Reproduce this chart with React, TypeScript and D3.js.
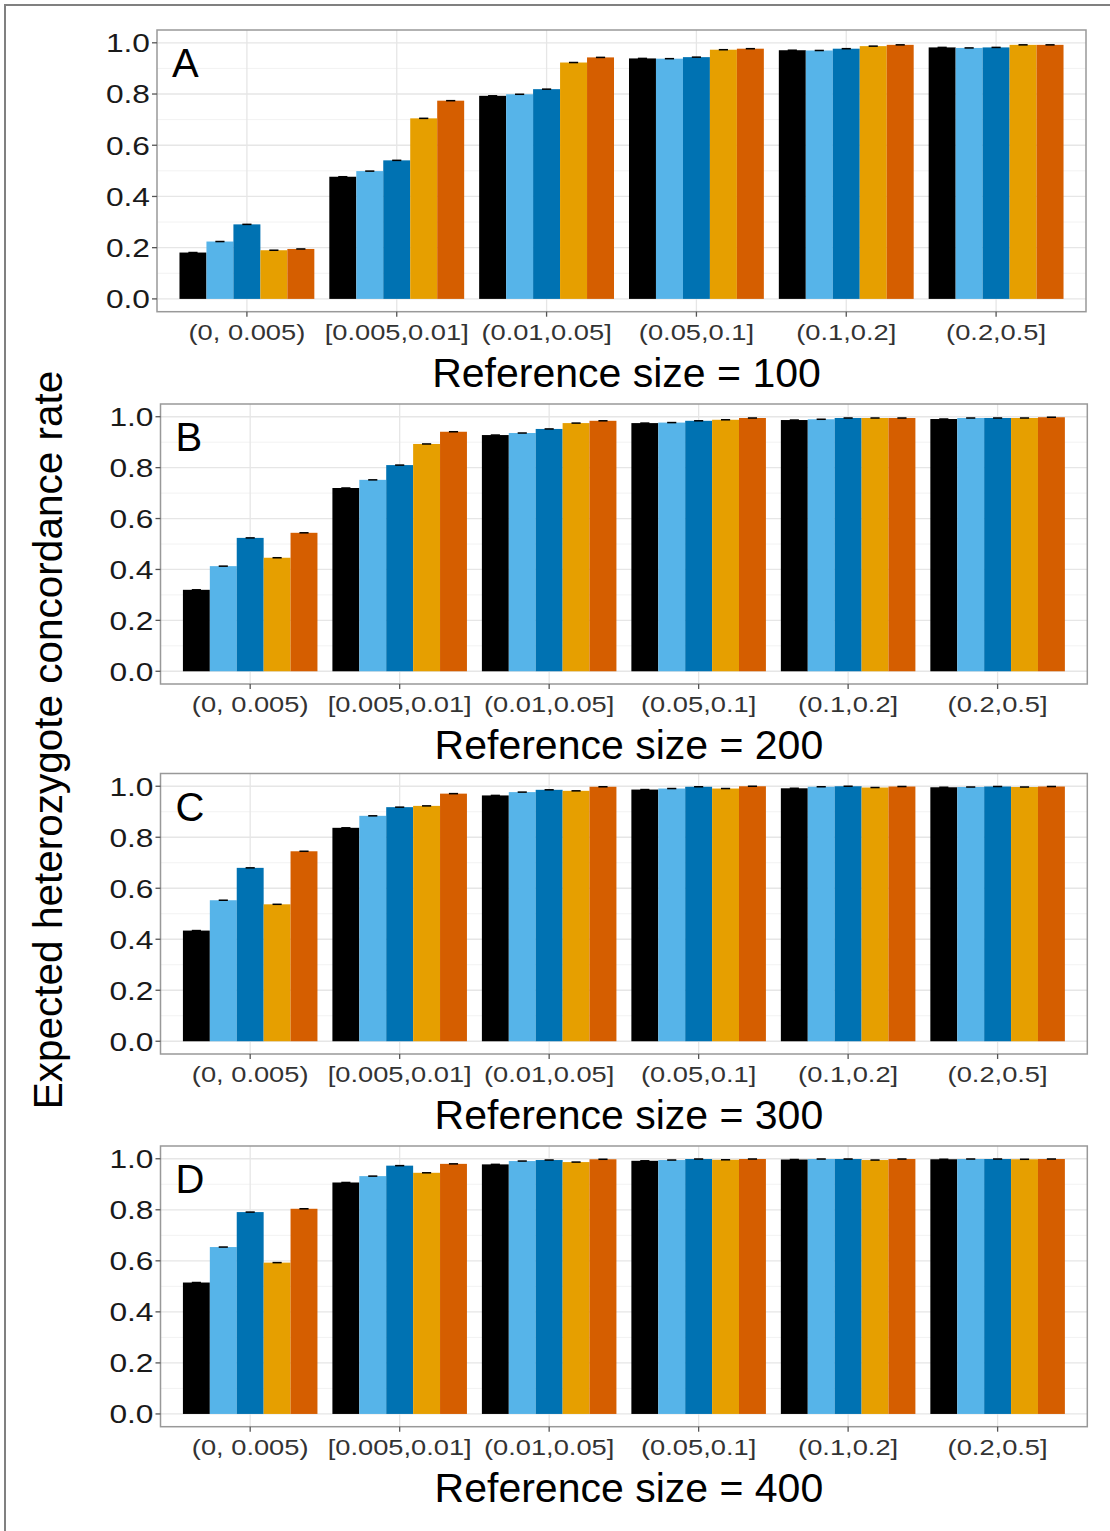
import React from "react";
import * as d3 from "d3";

const categories = ["(0, 0.005)", "[0.005,0.01]", "(0.01,0.05]", "(0.05,0.1]", "(0.1,0.2]", "(0.2,0.5]"];
const seriesNames = ["s1", "s2", "s3", "s4", "s5"];
const seriesColors = ["#000000", "#56B4E9", "#0072B2", "#E69F00", "#D55E00"];
const yTicks = [0, 0.2, 0.4, 0.6, 0.8, 1.0];
const yMinor = [0.1, 0.3, 0.5, 0.7, 0.9];
const panelLetters = ["A", "B", "C", "D"];
const referenceSizes = [100, 200, 300, 400];

// rows = categories, columns = series
const panelA = [
  [0.181, 0.224, 0.291, 0.190, 0.195],
  [0.477, 0.499, 0.541, 0.705, 0.774],
  [0.793, 0.799, 0.819, 0.923, 0.943],
  [0.939, 0.938, 0.944, 0.973, 0.977],
  [0.971, 0.970, 0.977, 0.987, 0.992],
  [0.982, 0.980, 0.982, 0.992, 0.992],
];
const panelB = [
  [0.320, 0.413, 0.524, 0.446, 0.544],
  [0.720, 0.752, 0.810, 0.893, 0.941],
  [0.928, 0.936, 0.952, 0.975, 0.984],
  [0.975, 0.977, 0.984, 0.988, 0.995],
  [0.987, 0.990, 0.995, 0.995, 0.995],
  [0.991, 0.995, 0.995, 0.995, 0.998],
];
const panelC = [
  [0.434, 0.553, 0.680, 0.537, 0.745],
  [0.837, 0.884, 0.918, 0.923, 0.971],
  [0.964, 0.977, 0.986, 0.982, 0.998],
  [0.987, 0.991, 0.998, 0.991, 1.0],
  [0.992, 0.998, 1.0, 0.995, 0.999],
  [0.996, 0.997, 0.999, 0.997, 0.999],
];
const panelD = [
  [0.515, 0.654, 0.791, 0.593, 0.804],
  [0.907, 0.932, 0.973, 0.945, 0.980],
  [0.978, 0.991, 0.995, 0.987, 0.998],
  [0.992, 0.995, 0.999, 0.996, 0.999],
  [0.997, 0.999, 0.999, 0.995, 0.999],
  [0.998, 0.999, 0.999, 0.998, 0.999],
];
const panelData = [panelA, panelB, panelC, panelD];
const errorHalf = 0.003;

const FONT = "'Liberation Sans', Arial, Helvetica, sans-serif";

const layouts = [
  { left: 157, top: 30, right: 1086, bottom: 311.7 },
  { left: 160.5, top: 404, right: 1087.3, bottom: 684 },
  { left: 160.5, top: 773.5, right: 1087.3, bottom: 1054 },
  { left: 160.5, top: 1146, right: 1087.3, bottom: 1426.7 },
];

function Panel({ idx }: { idx: number }) {
  const L = layouts[idx];
  const data = panelData[idx];
  const x = d3.scaleLinear().domain([0.4, categories.length + 0.6]).range([L.left, L.right]);
  const y = d3.scaleLinear().domain([-0.05, 1.05]).range([L.bottom, L.top]);
  const dodge = 0.9;
  const bw = dodge / seriesNames.length;
  const ebw = bw * 0.34;
  const lx = L.left - 7;
  return (
    <g>
      <rect x={L.left} y={L.top} width={L.right - L.left} height={L.bottom - L.top} fill="#fff" />
      {yMinor.map((t) => (
        <line key={"mn" + t} x1={L.left} x2={L.right} y1={y(t)} y2={y(t)} stroke="#F2F2F2" strokeWidth={1} />
      ))}
      {yTicks.map((t) => (
        <line key={"mj" + t} x1={L.left} x2={L.right} y1={y(t)} y2={y(t)} stroke="#E6E6E6" strokeWidth={1.3} />
      ))}
      {categories.map((c, i) => (
        <line key={"vx" + c} x1={x(i + 1)} x2={x(i + 1)} y1={L.top} y2={L.bottom} stroke="#E6E6E6" strokeWidth={1.3} />
      ))}
      {data.map((row, i) =>
        row.map((v, j) => {
          const x0 = x(i + 1 - dodge / 2 + j * bw);
          const x1 = x(i + 1 - dodge / 2 + (j + 1) * bw);
          return (
            <rect key={`b${i}-${j}`} x={x0} y={y(v)} width={x1 - x0} height={y(0) - y(v)} fill={seriesColors[j]} />
          );
        })
      )}
      {data.map((row, i) =>
        row.map((v, j) => {
          const cx = i + 1 - dodge / 2 + (j + 0.5) * bw;
          return (
            <rect key={`e${i}-${j}`} x={x(cx - ebw / 2)} y={y(v + errorHalf)} width={x(cx + ebw / 2) - x(cx - ebw / 2)}
              height={Math.max(1.5, y(v - errorHalf) - y(v + errorHalf))} fill="#000" />
          );
        })
      )}
      <rect x={L.left} y={L.top} width={L.right - L.left} height={L.bottom - L.top} fill="none" stroke="#999" strokeWidth={1.5} />
      {yTicks.map((t) => (
        <g key={"yt" + t}>
          <line x1={L.left - 5} x2={L.left} y1={y(t)} y2={y(t)} stroke="#555" strokeWidth={1.3} />
          <text x={lx} y={y(t)} dy="0.36em" textAnchor="end" fontSize={26} fill="#1a1a1a" fontFamily={FONT}
            transform={`translate(${lx},0) scale(1.22,1) translate(${-lx},0)`}>
            {d3.format(".1f")(t)}
          </text>
        </g>
      ))}
      {categories.map((c, i) => (
        <g key={"xt" + c}>
          <line x1={x(i + 1)} x2={x(i + 1)} y1={L.bottom} y2={L.bottom + 5} stroke="#555" strokeWidth={1.3} />
          <text x={x(i + 1)} y={L.bottom + 28} textAnchor="middle" fontSize={22} fill="#333" fontFamily={FONT}
            transform={`translate(${x(i + 1)},0) scale(1.24,1) translate(${-x(i + 1)},0)`}>
            {c}
          </text>
        </g>
      ))}
      <text x={L.left + 15} y={L.top + 47} fontSize={40} fill="#000" fontFamily={FONT}>
        {panelLetters[idx]}
      </text>
      <text x={(L.left + L.right) / 2 + 5} y={L.bottom + 75} textAnchor="middle" fontSize={41} fill="#000" fontFamily={FONT}>
        {`Reference size = ${referenceSizes[idx]}`}
      </text>
    </g>
  );
}

export default function App() {
  return (
    <svg width={1110} height={1531} style={{ position: "absolute", left: 0, top: 0, background: "#fff" }}>
      <rect x={0} y={0} width={1110} height={1531} fill="#fff" />
      <rect x={5} y={5} width={1112} height={1535} fill="none" stroke="#808080" strokeWidth={2} />
      {panelLetters.map((_, i) => (
        <Panel key={i} idx={i} />
      ))}
      <text transform="translate(62,740) rotate(-90)" textAnchor="middle" fontSize={40.5} fill="#000" fontFamily={FONT}>
        Expected heterozygote concordance rate
      </text>
    </svg>
  );
}
